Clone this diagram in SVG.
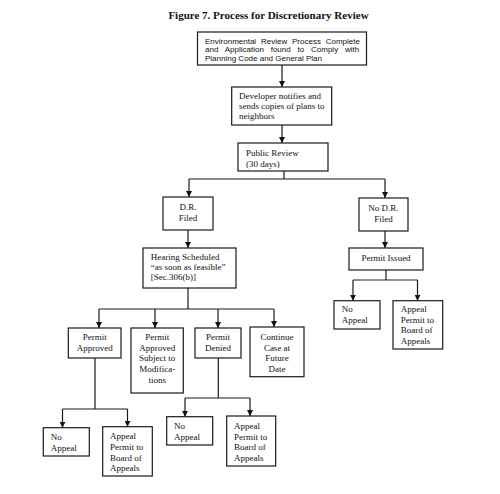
<svg xmlns="http://www.w3.org/2000/svg" width="500" height="494" viewBox="0 0 500 494">
<style>
.box{fill:#fff;stroke:#1a1a1a;stroke-width:1.2}
.t{font-family:"Liberation Serif","Times New Roman",serif;font-size:9px;fill:#111}
.c{text-anchor:middle}
.s{font-family:"Liberation Sans",Arial,sans-serif;font-size:8px;fill:#111}
.title{font-family:"Liberation Serif","Times New Roman",serif;font-size:11px;font-weight:bold;fill:#111;text-anchor:middle}
.ln{fill:none;stroke:#1a1a1a;stroke-width:1.2}
.ar{marker-end:url(#ah)}
</style>
<defs>
<marker id="ah" viewBox="0 0 6 6" refX="6" refY="3" markerWidth="6" markerHeight="6" markerUnits="userSpaceOnUse" orient="auto">
<path d="M0,0 L6,3 L0,6 z" fill="#111"/>
</marker>
</defs>
<rect width="500" height="494" fill="#fff"/>
<text class="title" x="268.5" y="19">Figure 7. Process for Discretionary Review</text>

<g id="connectors">
<path class="ln ar" d="M282,65 V87"/>
<path class="ln ar" d="M282,125 V143"/>
<path class="ln" d="M284,171 V179 M189,179 H385"/>
<path class="ln ar" d="M189,179 V197"/>
<path class="ln ar" d="M385,179 V198"/>
<path class="ln ar" d="M188,230 V248"/>
<path class="ln ar" d="M385,231 V248"/>
<path class="ln" d="M386,270 V280 M353,280 H417.5"/>
<path class="ln ar" d="M353,280 V300.7"/>
<path class="ln ar" d="M417.5,280 V300.7"/>
<path class="ln" d="M188,288 V309 M99,309 H274"/>
<path class="ln ar" d="M99,309 V328"/>
<path class="ln ar" d="M155,309 V328"/>
<path class="ln ar" d="M218,309 V328"/>
<path class="ln ar" d="M274,309 V327"/>
<path class="ln" d="M95,358 V409 M62.5,409 H127.5"/>
<path class="ln ar" d="M62.5,409 V427.7"/>
<path class="ln ar" d="M127.5,409 V426.7"/>
<path class="ln" d="M218.3,358 V398 M185,398 H250"/>
<path class="ln ar" d="M185,398 V416.7"/>
<path class="ln ar" d="M250,398 V416"/>
</g>

<g id="n-env">
<rect class="box" x="197.5" y="32" width="169" height="33"/>
<text class="s" x="205" y="44" word-spacing="2.6">Environmental Review Process Complete</text>
<text class="s" x="205" y="52.3" word-spacing="4.6">and Application found to Comply with</text>
<text class="s" x="205" y="60.5">Planning Code and General Plan</text>
</g>

<g id="n-dev">
<rect class="box" x="231.7" y="87" width="100" height="38"/>
<text class="t" x="239" y="98.7">Developer notifies and</text>
<text class="t" x="239" y="109.3">sends copies of plans to</text>
<text class="t" x="239" y="119.3">neighbors</text>
</g>

<g id="n-public">
<rect class="box" x="238" y="143" width="90" height="28"/>
<text class="t" x="246" y="156">Public Review</text>
<text class="t" x="246" y="166.5">(30 days)</text>
</g>

<g id="n-dr">
<rect class="box" x="163" y="197" width="50" height="33"/>
<text class="t c" x="188" y="210">D.R.</text>
<text class="t c" x="188" y="220.5">Filed</text>
</g>

<g id="n-nodr">
<rect class="box" x="359" y="198" width="49" height="33"/>
<text class="t c" x="383.5" y="211">No D.R.</text>
<text class="t c" x="383.5" y="221.5">Filed</text>
</g>

<g id="n-hearing">
<rect class="box" x="143" y="248" width="93" height="40"/>
<text class="t" x="150.7" y="259.5">Hearing Scheduled</text>
<text class="t" x="150.7" y="269.5">“as soon as feasible”</text>
<text class="t" x="150.7" y="279.5">[Sec.306(b)]</text>
</g>

<g id="n-issued">
<rect class="box" x="349" y="248" width="74" height="22"/>
<text class="t c" x="386" y="261">Permit Issued</text>
</g>

<g id="n-noappeal-r">
<rect class="box" x="334" y="300.7" width="46" height="28.3"/>
<text class="t" x="341.7" y="312">No</text>
<text class="t" x="341.7" y="323">Appeal</text>
</g>

<g id="n-appeal-r">
<rect class="box" x="393" y="300.7" width="49.7" height="48.3"/>
<text class="t" x="400.7" y="312">Appeal</text>
<text class="t" x="400.7" y="322.7">Permit to</text>
<text class="t" x="400.7" y="333.3">Board of</text>
<text class="t" x="400.7" y="344">Appeals</text>
</g>

<g id="n-approved">
<rect class="box" x="68.3" y="328" width="52.7" height="30"/>
<text class="t c" x="94.7" y="340">Permit</text>
<text class="t c" x="94.7" y="350.7">Approved</text>
</g>

<g id="n-modif">
<rect class="box" x="131" y="328" width="52.3" height="65"/>
<text class="t c" x="157.2" y="340">Permit</text>
<text class="t c" x="157.2" y="350.7">Approved</text>
<text class="t c" x="157.2" y="361.3">Subject to</text>
<text class="t c" x="157.2" y="372">Modifica-</text>
<text class="t c" x="157.2" y="382.5">tions</text>
</g>

<g id="n-denied">
<rect class="box" x="195" y="328" width="46" height="30"/>
<text class="t c" x="218" y="340">Permit</text>
<text class="t c" x="218" y="350.7">Denied</text>
</g>

<g id="n-continue">
<rect class="box" x="250" y="327" width="54" height="49.7"/>
<text class="t c" x="277" y="340">Continue</text>
<text class="t c" x="277" y="350.5">Case at</text>
<text class="t c" x="277" y="361">Future</text>
<text class="t c" x="277" y="371.5">Date</text>
</g>

<g id="n-noappeal-l">
<rect class="box" x="43.3" y="427.7" width="46" height="28.3"/>
<text class="t" x="50.7" y="440">No</text>
<text class="t" x="50.7" y="450.7">Appeal</text>
</g>

<g id="n-appeal-l">
<rect class="box" x="102.7" y="426.7" width="49.6" height="49.3"/>
<text class="t" x="110" y="439.3">Appeal</text>
<text class="t" x="110" y="450">Permit to</text>
<text class="t" x="110" y="460.7">Board of</text>
<text class="t" x="110" y="471.3">Appeals</text>
</g>

<g id="n-noappeal-m">
<rect class="box" x="166.7" y="416.7" width="46" height="28.3"/>
<text class="t" x="174" y="429.3">No</text>
<text class="t" x="174" y="440">Appeal</text>
</g>

<g id="n-appeal-m">
<rect class="box" x="226.7" y="416" width="49" height="50"/>
<text class="t" x="234" y="429">Appeal</text>
<text class="t" x="234" y="439.7">Permit to</text>
<text class="t" x="234" y="450.3">Board of</text>
<text class="t" x="234" y="461">Appeals</text>
</g>
</svg>
